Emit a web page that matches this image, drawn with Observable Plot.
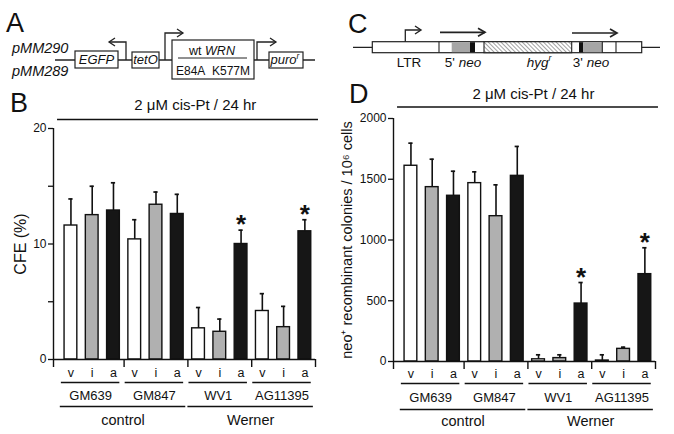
<!DOCTYPE html>
<html>
<head>
<meta charset="utf-8">
<script src="https://cdn.jsdelivr.net/npm/d3@7"></script>
<script src="https://cdn.jsdelivr.net/npm/@observablehq/plot@0.6"></script>
<style>
  html, body { margin: 0; padding: 0; background: #fff; }
  #fig { position: relative; width: 674px; height: 434px; overflow: hidden; font-family: "Liberation Sans", Arial, Helvetica, sans-serif; color: #111; }
  #fig svg { position: absolute; }
</style>
</head>
<body>
<div id="fig"></div>
<script>
// ---------------- data ----------------
const cellLines = ["GM639", "GM847", "WV1", "AG11395"];
const conditions = ["v", "i", "a"];
const groups = ["control", "Werner"];
const groupOfLine = ["control", "control", "Werner", "Werner"];
const treatment = "2 \u03BCM cis-Pt / 24 hr";

// Panel B: colony forming efficiency (%) – mean and upper error
const cfeMean = [11.6, 12.5, 12.9, 10.4, 13.4, 12.6, 2.7, 2.4, 10.0, 4.2, 2.8, 11.1];
const cfeErr  = [2.3, 2.5, 2.4, 1.7, 1.1, 1.7, 1.8, 1.1, 1.2, 1.5, 1.8, 1.0];
const cfeTicks = [0, 5, 10, 15, 20];
const cfeTickLabels = [0, 10, 20];
const cfeLabel = "CFE (%)";

// Panel D: neo+ recombinant colonies / 10^6 cells – mean and upper error
const recMean = [1611, 1435, 1364, 1468, 1196, 1528, 18, 28, 477, 8, 104, 719];
const recErr  = [186, 230, 202, 93, 258, 242, 37, 27, 173, 47, 14, 217];
const recTicks = [0, 500, 1000, 1500, 2000];
const recTickLabels = [0, 500, 1000, 1500, 2000];
const recLabel = "neo\u207A recombinant colonies / 10\u2076 cells";

const significant = ["WV1 a", "AG11395 a"];

// ---------------- helpers ----------------
const fontFamily = '"Liberation Sans", Arial, Helvetica, sans-serif';
const fig = document.getElementById("fig");

function rowsFor(mean, err) {
  return cellLines.flatMap((line, g) => conditions.map((cond, j) => {
    const i = g * 3 + j;
    return {i, line, cond, mean: mean[i], err: err[i], sig: significant.includes(line + " " + cond)};
  }));
}

function barPanel({mean, err, ticks, tickLabels, yMax, yLabel, labelSize, left, top, width, height, margin, labelDx, titleX, off}) {
  const rows = rowsFor(mean, err);
  const plotH = height - margin.top - margin.bottom;
  const unitPerPx = yMax / plotH;
  const x0 = -0.82, xEnd = 11.5;
  const cells = cellLines.map((line, g) => ({line, x1: g * 3 - 0.45, x2: g * 3 + 2.3}));
  const grp = groups.map(name => {
    const idx = groupOfLine.map((g, k) => g === name ? k : -1).filter(k => k >= 0);
    return {name, x1: idx[0] * 3 - 0.5, x2: idx[idx.length - 1] * 3 + 2.4};
  });
  const seps = cellLines.map((_, g) => g * 3 + 2.5);
  const below = -8 * unitPerPx;
  const chart = Plot.plot({
    width, height,
    marginTop: margin.top, marginRight: margin.right, marginBottom: margin.bottom, marginLeft: margin.left,
    style: {fontFamily, background: "transparent", overflow: "visible", color: "#111"},
    x: {domain: [x0, xEnd], axis: null},
    y: {domain: [0, yMax], axis: null, label: null},
    color: {domain: conditions, range: ["#ffffff", "#b0b0b0", "#161616"]},
    marks: [
      Plot.rect(rows, {x1: d => d.i - 0.3, x2: d => d.i + 0.3, y1: 0, y2: "mean", fill: "cond", stroke: "#111", strokeWidth: 1.4}),
      Plot.ruleX(rows, {x: "i", y1: "mean", y2: d => d.mean + d.err, stroke: "#111", strokeWidth: 1.6}),
      Plot.ruleY(rows, {y: d => d.mean + d.err, x1: d => d.i - 0.1, x2: d => d.i + 0.1, stroke: "#111", strokeWidth: 1.7}),
      Plot.text(rows.filter(d => d.sig), {x: "i", y: d => d.mean + d.err, text: () => "*", fontSize: 26, fontWeight: "bold", dy: -5}),
      Plot.axisY({ticks, tickFormat: d => tickLabels.includes(d) ? String(d) : "", tickSize: 5, tickPadding: 2, fontSize: 12, label: null, strokeWidth: 1.3}),
      Plot.ruleX([x0], {y1: below, y2: yMax, stroke: "#111", strokeWidth: 1.4}),
      Plot.ruleX(seps, {y1: below, y2: 0, stroke: "#111", strokeWidth: 1.4}),
      Plot.ruleY([0], {stroke: "#111", strokeWidth: 1.4}),
      Plot.text(rows, {x: "i", y: 0, text: "cond", dy: off.cond, fontSize: 12.5}),
      Plot.ruleY(cells, {y: 0, x1: "x1", x2: "x2", dy: off.cellLine, stroke: "#111", strokeWidth: 1.4}),
      Plot.text(cells, {x: d => (d.x1 + d.x2) / 2, y: 0, text: "line", dy: off.cellText, fontSize: 13}),
      Plot.ruleY(grp, {y: 0, x1: "x1", x2: "x2", dy: off.grpLine, stroke: "#111", strokeWidth: 1.4}),
      Plot.text(grp, {x: d => (d.x1 + d.x2) / 2, y: 0, text: "name", dy: off.grpText, fontSize: 14.5}),
      Plot.ruleY([yMax], {x1: -0.63, x2: 11.64, dy: off.titleLine, stroke: "#111", strokeWidth: 1.4}),
      Plot.text([treatment], {x: titleX, y: yMax, text: d => d, dy: off.titleText, fontSize: 15}),
      Plot.text([yLabel], {frameAnchor: "left", text: d => d, rotate: -90, textAnchor: "middle", dx: labelDx, fontSize: labelSize})
    ]
  });
  chart.style.left = left + "px";
  chart.style.top = top + "px";
  fig.appendChild(chart);
}

// Panel B
barPanel({
  mean: cfeMean, err: cfeErr, ticks: cfeTicks, tickLabels: cfeTickLabels, yMax: 20, yLabel: cfeLabel, labelSize: 16,
  left: 0, top: 80, width: 340, height: 354,
  margin: {top: 48, right: 25, bottom: 75, left: 53},
  labelDx: -33, titleX: 5.85,
  off: {cond: 13, cellLine: 23, cellText: 36, grpLine: 47, grpText: 61, titleLine: -9, titleText: -23}
});

// Panel D
barPanel({
  mean: recMean, err: recErr, ticks: recTicks, tickLabels: recTickLabels, yMax: 2000, yLabel: recLabel, labelSize: 14.5,
  left: 330, top: 80, width: 344, height: 354,
  margin: {top: 38, right: 19, bottom: 73, left: 63},
  labelDx: -46, titleX: 5.76,
  off: {cond: 12, cellLine: 22, cellText: 36, grpLine: 48, grpText: 60, titleLine: -11.5, titleText: -24}
});

// ---------------- schematics (panels A and C) and panel letters ----------------
const svg = d3.select(fig).append("svg")
  .attr("width", 674).attr("height", 434)
  .style("left", "0px").style("top", "0px")
  .attr("font-family", fontFamily);

const defs = svg.append("defs");
const pat = defs.append("pattern").attr("id", "hatch").attr("patternUnits", "userSpaceOnUse")
  .attr("width", 3).attr("height", 3).attr("patternTransform", "rotate(-45)");
pat.append("rect").attr("width", 3).attr("height", 3).attr("fill", "#fff");
pat.append("line").attr("x1", 0).attr("y1", 0).attr("x2", 0).attr("y2", 3).attr("stroke", "#555").attr("stroke-width", 1.1);

const ink = "#222";
function line(x1, y1, x2, y2, w = 1.3) {
  svg.append("line").attr("x1", x1).attr("y1", y1).attr("x2", x2).attr("y2", y2).attr("stroke", ink).attr("stroke-width", w);
}
function box(x, y, w, h, fill = "#fff") {
  svg.append("rect").attr("x", x).attr("y", y).attr("width", w).attr("height", h)
    .attr("fill", fill).attr("stroke", ink).attr("stroke-width", 1.2);
}
function path(d, w = 1.3) {
  svg.append("path").attr("d", d).attr("fill", "none").attr("stroke", ink).attr("stroke-width", w);
}
function label(x, y, parts, size = 13, anchor = "middle") {
  const t = svg.append("text").attr("x", x).attr("y", y).attr("font-size", size).attr("text-anchor", anchor).attr("fill", "#111");
  parts.forEach(p => {
    const s = t.append("tspan").text(p.t);
    if (p.i) s.attr("font-style", "italic");
    if (p.sup) s.attr("font-size", size * 0.65).attr("dy", -size * 0.38);
  });
  return t;
}

// Panel A
line(55, 60, 315, 60);
box(75, 51, 43, 17);
box(132, 52, 27, 16);
box(172, 40, 82, 39);
box(269, 52, 34, 16);
path("M126,60 V42 H109");
path("M115,38 L109,42 L115,46");
path("M165,60 V33 H183");
path("M177,29 L183,33 L177,37");
path("M257,60 V42 H276");
path("M270,38 L276,42 L270,46");
line(178, 58, 247, 58, 1);
label(96.5, 64, [{t: "EGFP", i: true}]);
label(145.5, 64, [{t: "tetO", i: true}]);
label(212, 55, [{t: "wt "}, {t: "WRN", i: true}], 12.5);
label(213, 75, [{t: "E84A\u00A0\u00A0K577M"}], 12);
label(285, 64, [{t: "puro", i: true}, {t: "r", i: true, sup: true}]);
label(12, 53, [{t: "pMM290", i: true}], 14.5, "start");
label(12, 76, [{t: "pMM289", i: true}], 14.5, "start");

// Panel C
line(353, 47.3, 660, 47.3);
box(372.3, 41.7, 269.4, 11);
svg.append("rect").attr("x", 484).attr("y", 41.7).attr("width", 87.7).attr("height", 11).attr("fill", "url(#hatch)").attr("stroke", ink).attr("stroke-width", 1.1);
svg.append("rect").attr("x", 451.7).attr("y", 42.2).attr("width", 18.3).attr("height", 10).attr("fill", "#a6a6a6");
svg.append("rect").attr("x", 470).attr("y", 42.2).attr("width", 5).attr("height", 10).attr("fill", "#111");
svg.append("rect").attr("x", 579).attr("y", 42.2).attr("width", 4.3).attr("height", 10).attr("fill", "#111");
svg.append("rect").attr("x", 583.3).attr("y", 42.2).attr("width", 19).attr("height", 10).attr("fill", "#a6a6a6");
[439, 602.3, 616].forEach(x => line(x, 41.7, x, 52.7, 1.1));
path("M405.3,41.7 V30 H420");
path("M415,26 L421,30 L415,34", 1.4);
path("M440,32.3 H485", 1.7);
path("M478,28.3 L485,32.3 L478,36.3", 1.7);
path("M572,33 H617", 1.7);
path("M610,29 L617,33 L610,37", 1.7);
label(409, 66.5, [{t: "LTR"}], 13.5);
label(463, 66.5, [{t: "5' "}, {t: "neo", i: true}], 13.5);
label(539, 66.5, [{t: "hyg", i: true}, {t: "r", i: true, sup: true}], 13.5);
label(591, 66.5, [{t: "3' "}, {t: "neo", i: true}], 13.5);

// Panel letters
label(6, 32, [{t: "A"}], 27, "start");
label(10, 112, [{t: "B"}], 27, "start");
label(348, 33, [{t: "C"}], 27, "start");
label(349, 103, [{t: "D"}], 27, "start");
</script>
</body>
</html>
